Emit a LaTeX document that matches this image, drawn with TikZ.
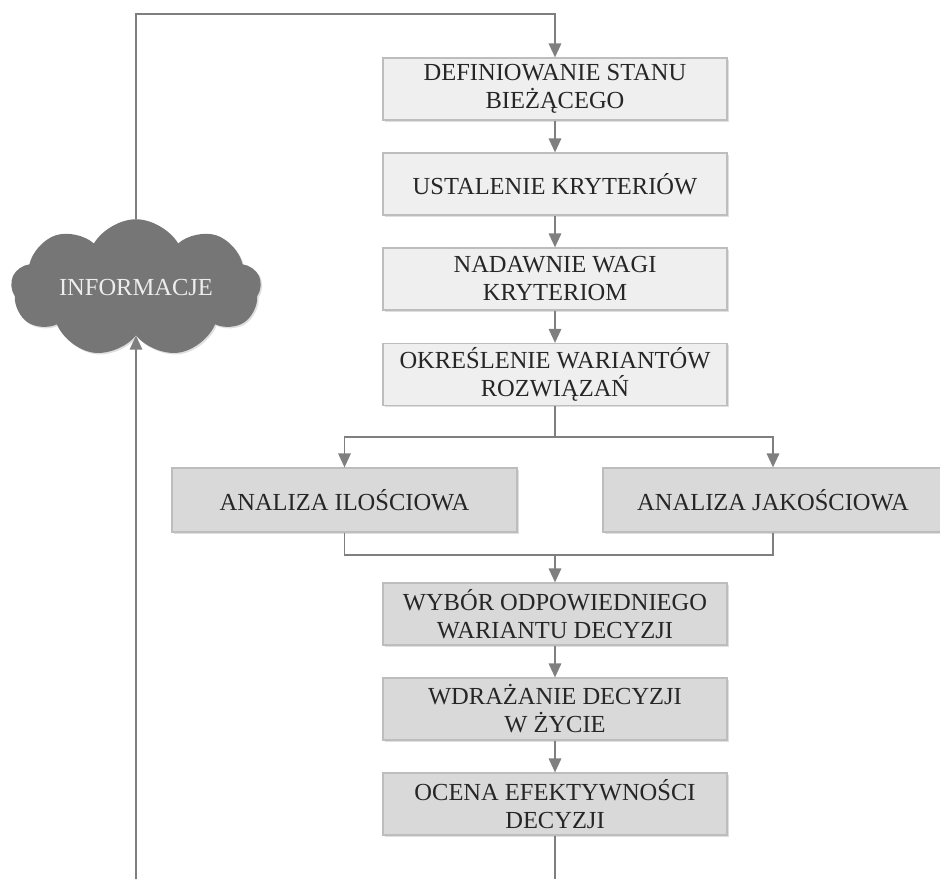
\documentclass[tikz,border=0pt]{standalone}
\usepackage{fontspec}
\setmainfont{Liberation Serif}
\usetikzlibrary{arrows.meta,shapes.symbols,shadows}
\definecolor{linegray}{HTML}{7F7F7F}
\definecolor{bordergray}{HTML}{BDBDBD}
\definecolor{lightbox}{HTML}{EFEFEF}
\definecolor{darkbox}{HTML}{D9D9D9}
\definecolor{cloudgray}{HTML}{767676}
\begin{document}
\begin{tikzpicture}[x=1pt,y=-1pt,
    box/.style={draw=bordergray,line width=1.2pt,align=center,text=black!85,
      minimum width=344pt,minimum height=62pt,inner sep=2pt,
      font=\fontsize{24.5}{28}\selectfont,
      drop shadow={shadow xshift=1.5pt,shadow yshift=-1.5pt,opacity=0.25}},
    upperbox/.style={box,fill=lightbox},
    lowerbox/.style={box,fill=darkbox},
    infocloud/.style={cloud,cloud puffs=9,cloud puff arc=120,aspect=2.3,
      fill=cloudgray,draw=none,minimum width=250pt,minimum height=110pt,
      text=white!93!black,font=\fontsize{24.5}{28}\selectfont,
      drop shadow={shadow xshift=1.5pt,shadow yshift=-1.5pt,opacity=0.25}},
    flow/.style={draw=linegray,line width=1.7pt},
    flowarrow/.style={flow,-{Triangle[length=14pt,width=12.5pt]}}]
  \useasboundingbox (0,0) rectangle (940,879);
  \node[upperbox] (stan) at (555,89) {DEFINIOWANIE STANU\\BIEŻĄCEGO};
  \node[upperbox] (kryteria) at (555,184) {USTALENIE KRYTERIÓW};
  \node[upperbox] (wagi) at (555,279) {NADAWNIE WAGI\\KRYTERIOM};
  \node[upperbox] (warianty) at (555,374.5) {OKREŚLENIE WARIANTÓW\\ROZWIĄZAŃ};
  \node[lowerbox,minimum width=345pt,minimum height=64pt] (ilosc) at (344.5,500) {ANALIZA ILOŚCIOWA};
  \node[lowerbox,minimum width=340pt,minimum height=64pt] (jakosc) at (773,500) {ANALIZA JAKOŚCIOWA};
  \node[lowerbox] (wybor) at (555,614) {WYBÓR ODPOWIEDNIEGO\\WARIANTU DECYZJI};
  \node[lowerbox] (wdrozenie) at (555,709) {WDRAŻANIE DECYZJI\\W ŻYCIE};
  \node[lowerbox] (ocena) at (555,804) {OCENA EFEKTYWNOŚCI\\DECYZJI};
  \node[infocloud] (info) at (136,288) {INFORMACJE};
  \coordinate (gora) at (136,14);
  \coordinate (rozdzial) at (555,437);
  \coordinate (zbieg) at (555,555);
  \coordinate (dolprawy) at (555,879);
  \coordinate (dollewy) at (136,879);
  \draw[flowarrow] (info.north) -- (gora) -| (stan.north);
  \draw[flowarrow] (stan) -- (kryteria);
  \draw[flowarrow] (kryteria) -- (wagi);
  \draw[flowarrow] (wagi) -- (warianty);
  \draw[flow] (warianty) -- (rozdzial);
  \draw[flowarrow] (rozdzial) -| (ilosc.north);
  \draw[flowarrow] (rozdzial) -| (jakosc.north);
  \draw[flow] (ilosc.south) |- (zbieg) -| (jakosc.south);
  \draw[flowarrow] (zbieg) -- (wybor);
  \draw[flowarrow] (wybor) -- (wdrozenie);
  \draw[flowarrow] (wdrozenie) -- (ocena);
  \draw[flow] (ocena) -- (dolprawy);
  \draw[flowarrow] (dollewy) -- (info.south);
\end{tikzpicture}
\end{document}
